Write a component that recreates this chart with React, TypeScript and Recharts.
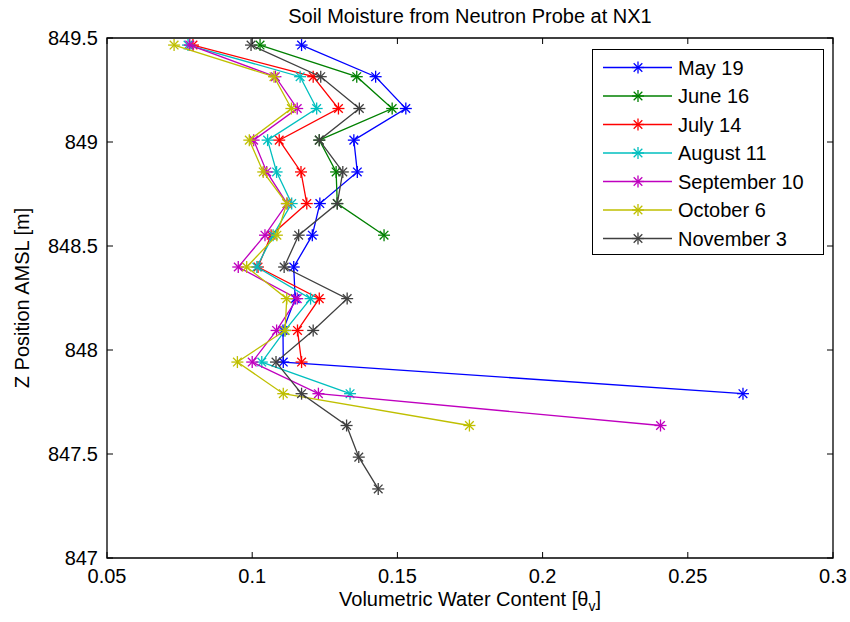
import React from 'react';
import { ScatterChart, Scatter, XAxis, YAxis, ReferenceArea } from 'recharts';

// depth of each probe reading [m AMSL]
const DEPTHS = [849.466, 849.314, 849.161, 849.009, 848.856, 848.704, 848.552, 848.399, 848.247, 848.094, 847.942, 847.79, 847.637, 847.485, 847.332];

// volumetric water content per survey, top reading first
const MAY_19 = [0.117, 0.1425, 0.1529, 0.135, 0.1362, 0.1233, 0.1207, 0.1143, 0.1148, 0.1106, 0.1107, 0.269];
const JUNE_16 = [0.1027, 0.136, 0.1482, 0.1231, 0.1289, 0.1293, 0.1454];
const JULY_14 = [0.0796, 0.121, 0.1297, 0.1093, 0.1168, 0.1188, 0.1065, 0.102, 0.1231, 0.1156, 0.117];
const AUGUST_11 = [0.0779, 0.1165, 0.1222, 0.1053, 0.1084, 0.1136, 0.1072, 0.1016, 0.1201, 0.1113, 0.1033, 0.1337];
const SEPTEMBER_10 = [0.0785, 0.108, 0.1155, 0.1005, 0.105, 0.112, 0.1044, 0.0952, 0.1155, 0.1084, 0.1, 0.1228, 0.2406];
const OCTOBER_6 = [0.0731, 0.1075, 0.1135, 0.099, 0.1038, 0.1119, 0.1085, 0.0981, 0.1119, 0.1113, 0.0949, 0.1107, 0.1748];
const NOVEMBER_3 = [0.0996, 0.1236, 0.1369, 0.1231, 0.1312, 0.1293, 0.116, 0.111, 0.1327, 0.121, 0.1082, 0.117, 0.1325, 0.1367, 0.1434];

const SERIES_NAMES = ['May 19', 'June 16', 'July 14', 'August 11', 'September 10', 'October 6', 'November 3'];
const SERIES_VALUES = [MAY_19, JUNE_16, JULY_14, AUGUST_11, SEPTEMBER_10, OCTOBER_6, NOVEMBER_3];

const X_TICKS = [0.05, 0.1, 0.15, 0.2, 0.25, 0.3];
const Y_TICKS = [847, 847.5, 848, 848.5, 849, 849.5];

// matlab default line colours
const COLORS = ['#0000ff', '#008000', '#ff0000', '#00bfbf', '#bf00bf', '#bfbf00', '#404040'];

const W = 850;
const H = 622;
const PLOT = { left: 107, right: 833, top: 38, bottom: 558 };
const FONT = '"Liberation Sans", Arial, sans-serif';
const TICK_LEN = 6;

const series = SERIES_NAMES.map((name, i) => ({
  name,
  color: COLORS[i],
  data: SERIES_VALUES[i].map((x, k) => ({ x, y: DEPTHS[k] })),
}));

function Star({ cx, cy, color, r = 6 }: { cx: number; cy: number; color: string; r?: number }) {
  const d = r * 0.72;
  return (
    <g stroke={color} strokeWidth={1.3}>
      <line x1={cx - r} y1={cy} x2={cx + r} y2={cy} />
      <line x1={cx} y1={cy - r} x2={cx} y2={cy + r} />
      <line x1={cx - d} y1={cy - d} x2={cx + d} y2={cy + d} />
      <line x1={cx - d} y1={cy + d} x2={cx + d} y2={cy - d} />
    </g>
  );
}

const XTick = (props: any) => {
  const { x, payload } = props;
  return (
    <g>
      <line x1={x} x2={x} y1={PLOT.bottom} y2={PLOT.bottom - TICK_LEN} stroke="#000" />
      <line x1={x} x2={x} y1={PLOT.top} y2={PLOT.top + TICK_LEN} stroke="#000" />
      <text x={x} y={583} textAnchor="middle" fontSize={20} fontFamily={FONT} fill="#000">
        {String(payload.value)}
      </text>
    </g>
  );
};

const YTick = (props: any) => {
  const { y, payload } = props;
  return (
    <g>
      <line x1={PLOT.left} x2={PLOT.left + TICK_LEN} y1={y} y2={y} stroke="#000" />
      <line x1={PLOT.right} x2={PLOT.right - TICK_LEN} y1={y} y2={y} stroke="#000" />
      <text x={98} y={y + 7} textAnchor="end" fontSize={20} fontFamily={FONT} fill="#000">
        {String(payload.value)}
      </text>
    </g>
  );
};

const XTitle = () => (
  <text x={(PLOT.left + PLOT.right) / 2} y={606} textAnchor="middle" fontSize={20} fontFamily={FONT} fill="#000">
    Volumetric Water Content [θ
    <tspan dy={5} fontSize={14}>v</tspan>
    <tspan dy={-5}>]</tspan>
  </text>
);

const YTitle = () => (
  <text
    x={22}
    y={(PLOT.top + PLOT.bottom) / 2}
    transform={`rotate(-90 22 ${(PLOT.top + PLOT.bottom) / 2})`}
    textAnchor="middle"
    dominantBaseline="central"
    fontSize={20}
    fontFamily={FONT}
    fill="#000"
  >
    Z Position AMSL [m]
  </text>
);

function LegendBox() {
  const w = 232;
  const h = 206;
  return (
    <svg width={w} height={h} style={{ position: 'absolute', left: 592, top: 49 }}>
      <rect x={0.5} y={0.5} width={w - 1} height={h - 1} fill="#fff" stroke="#000" />
      {series.map((s, i) => {
        const y = 18.5 + i * 28.5;
        return (
          <g key={s.name}>
            <line x1={11} x2={80} y1={y} y2={y} stroke={s.color} strokeWidth={1.3} />
            <Star cx={46} cy={y} color={s.color} />
            <text x={86} y={y + 7} fontSize={20} fontFamily={FONT} fill="#000">
              {s.name}
            </text>
          </g>
        );
      })}
    </svg>
  );
}

export default function App() {
  return (
    <div style={{ position: 'absolute', left: 0, top: 0, width: W, height: H, background: '#fff' }}>
      <div
        style={{
          position: 'absolute',
          left: PLOT.left,
          width: PLOT.right - PLOT.left,
          top: 4,
          textAlign: 'center',
          fontFamily: FONT,
          fontSize: 20,
          lineHeight: '24px',
        }}
      >
        Soil Moisture from Neutron Probe at NX1
      </div>
      <ScatterChart
        width={W}
        height={H}
        margin={{ top: PLOT.top, right: W - PLOT.right, bottom: 0, left: 0 }}
      >
        <XAxis
          type="number"
          dataKey="x"
          domain={[0.05, 0.3]}
          ticks={X_TICKS}
          allowDataOverflow
          axisLine={false}
          tickLine={false}
          tick={<XTick />}
          height={H - PLOT.bottom}
          label={<XTitle />}
        />
        <YAxis
          type="number"
          dataKey="y"
          domain={[847, 849.5]}
          ticks={Y_TICKS}
          allowDataOverflow
          axisLine={false}
          tickLine={false}
          tick={<YTick />}
          width={PLOT.left}
          label={<YTitle />}
        />
        <ReferenceArea x1={0.05} x2={0.3} y1={847} y2={849.5} fill="none" stroke="#000" strokeWidth={1.3} />
        {series.map((s) => (
          <Scatter
            key={s.name}
            name={s.name}
            data={s.data}
            line={{ stroke: s.color, strokeWidth: 1.3 }}
            lineType="joint"
            isAnimationActive={false}
            shape={(p: any) => <Star cx={p.cx} cy={p.cy} color={s.color} />}
          />
        ))}
      </ScatterChart>
      <LegendBox />
    </div>
  );
}
